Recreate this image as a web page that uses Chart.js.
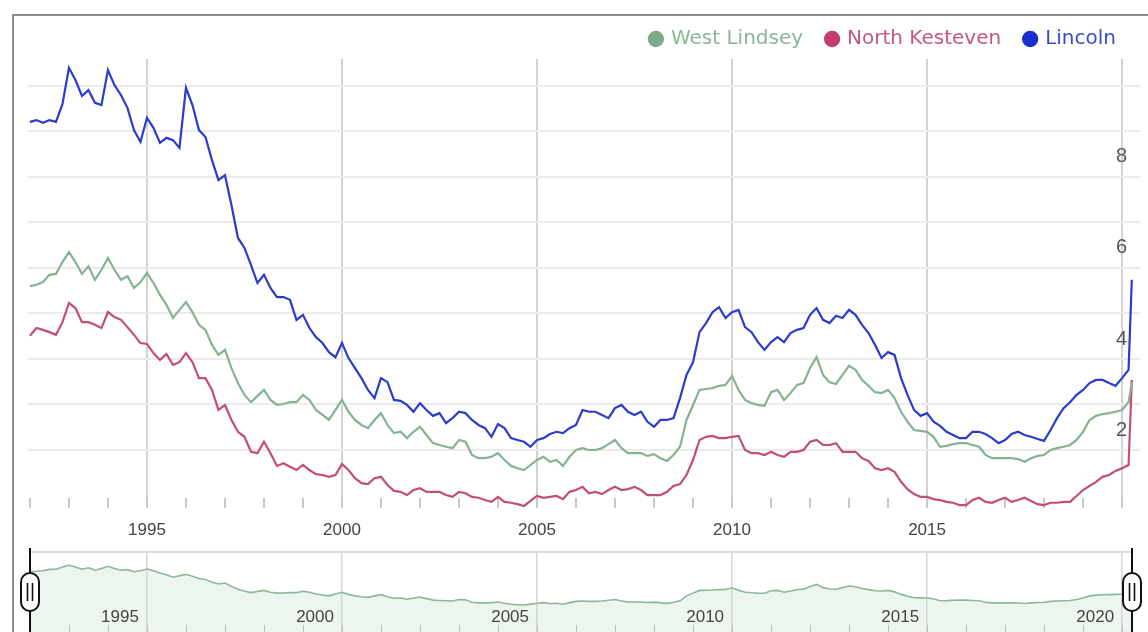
<!DOCTYPE html>
<html lang="en">
<head>
<meta charset="UTF-8" />
<title>Claimant rate - West Lindsey, North Kesteven, Lincoln</title>
<script src="https://cdn.jsdelivr.net/npm/chart.js"></script>
<style>
  body { margin: 0; background: #fff; overflow: hidden; }
  #frame {
    position: absolute; left: 12px; top: 14px;
    width: 1140px; height: 640px;
    border-left: 2px solid #8c8c8c; border-top: 2px solid #8c8c8c;
  }
  #main { position: absolute; left: 0; top: 0; }
  #nav { position: absolute; left: 0; top: 548px; }
</style>
</head>
<body>
<div id="frame"></div>
<canvas id="main" width="1148" height="548"></canvas>
<canvas id="nav" width="1148" height="92"></canvas>

<script>
  // one value every two months (Jan, Mar, May, Jul, Sep, Nov), then Jan/Mar/Apr 2020
  const dates = [];
  for (let y = 1992; y <= 2019; y++) {
    for (const m of [0, 2, 4, 6, 8, 10]) dates.push(y + m / 12);
  }
  dates.push(2020, 2020 + 2 / 12, 2020 + 3 / 12);

  const westLindsey = [
    5.60, 5.63, 5.69, 5.85, 5.87, 6.13,
    6.35, 6.13, 5.87, 6.04, 5.74, 5.96,
    6.22, 5.96, 5.74, 5.82, 5.56, 5.69,
    5.89, 5.67, 5.41, 5.19, 4.90, 5.08,
    5.25, 5.03, 4.75, 4.64, 4.31, 4.09,
    4.20, 3.80, 3.47, 3.21, 3.05, 3.19,
    3.32, 3.10, 2.99, 3.01, 3.05, 3.05,
    3.21, 3.10, 2.88, 2.77, 2.66, 2.88,
    3.10, 2.84, 2.66, 2.55, 2.48, 2.66,
    2.81, 2.55, 2.37, 2.40, 2.26, 2.40,
    2.51, 2.33, 2.15, 2.11, 2.07, 2.04,
    2.22, 2.18, 1.89, 1.82, 1.82, 1.85,
    1.93, 1.78, 1.65, 1.60, 1.56, 1.67,
    1.78, 1.85, 1.74, 1.78, 1.65, 1.85,
    2.00, 2.04, 2.00, 2.00, 2.04, 2.13,
    2.22, 2.04, 1.93, 1.93, 1.93, 1.87,
    1.91, 1.82, 1.76, 1.89, 2.07, 2.66,
    2.99, 3.32, 3.34, 3.36, 3.41, 3.43,
    3.63, 3.32, 3.10, 3.03, 2.99, 2.97,
    3.27, 3.32, 3.10, 3.25, 3.43, 3.47,
    3.80, 4.04, 3.65, 3.49, 3.45, 3.65,
    3.85, 3.76, 3.54, 3.41, 3.27, 3.25,
    3.32, 3.14, 2.84, 2.62, 2.44, 2.42,
    2.40, 2.29, 2.07, 2.09, 2.13, 2.15,
    2.15, 2.11, 2.07, 1.89, 1.82, 1.82,
    1.82, 1.82, 1.80, 1.74, 1.82, 1.87,
    1.89, 2.00, 2.04, 2.07, 2.11, 2.22,
    2.40, 2.66, 2.75, 2.79, 2.81, 2.84,
    2.88, 3.05, 3.49
  ];

  const northKesteven = [
    4.51, 4.68, 4.64, 4.59, 4.53, 4.81,
    5.23, 5.12, 4.81, 4.81, 4.75, 4.68,
    5.03, 4.92, 4.86, 4.70, 4.53, 4.35,
    4.33, 4.13, 3.98, 4.11, 3.87, 3.93,
    4.13, 3.93, 3.58, 3.58, 3.32, 2.88,
    2.99, 2.66, 2.40, 2.29, 1.96, 1.93,
    2.18, 1.93, 1.65, 1.71, 1.63, 1.56,
    1.67, 1.56, 1.47, 1.45, 1.41, 1.45,
    1.69, 1.56, 1.38, 1.27, 1.25, 1.38,
    1.41, 1.23, 1.10, 1.08, 1.01, 1.12,
    1.16, 1.08, 1.08, 1.08, 1.01, 0.97,
    1.08, 1.05, 0.97, 0.95, 0.90, 0.86,
    0.97, 0.86, 0.84, 0.81, 0.77, 0.88,
    0.99, 0.95, 0.97, 0.99, 0.92, 1.08,
    1.12, 1.19, 1.05, 1.08, 1.03, 1.12,
    1.19, 1.12, 1.14, 1.19, 1.12, 1.01,
    1.01, 1.01, 1.08, 1.21, 1.25, 1.45,
    1.78, 2.22, 2.29, 2.31, 2.26, 2.26,
    2.29, 2.31, 2.00, 1.93, 1.93, 1.89,
    1.96, 1.89, 1.85, 1.96, 1.96, 2.00,
    2.18, 2.22, 2.11, 2.11, 2.15, 1.96,
    1.96, 1.96, 1.82, 1.76, 1.60, 1.56,
    1.60, 1.52, 1.30, 1.14, 1.03, 0.97,
    0.97, 0.92, 0.90, 0.86, 0.84, 0.79,
    0.79, 0.90, 0.95, 0.86, 0.84, 0.90,
    0.95, 0.86, 0.90, 0.95, 0.88, 0.81,
    0.79, 0.84, 0.84, 0.86, 0.86, 0.99,
    1.12, 1.21, 1.30, 1.41, 1.45, 1.54,
    1.60, 1.67, 3.54
  ];

  const lincoln = [
    9.21, 9.25, 9.19, 9.25, 9.21, 9.60,
    10.40, 10.13, 9.78, 9.91, 9.63, 9.58,
    10.35, 10.02, 9.80, 9.52, 9.03, 8.77,
    9.30, 9.08, 8.75, 8.86, 8.81, 8.64,
    9.96, 9.58, 9.03, 8.88, 8.37, 7.93,
    8.04, 7.38, 6.66, 6.44, 6.07, 5.67,
    5.85, 5.56, 5.36, 5.36, 5.30, 4.86,
    4.97, 4.68, 4.48, 4.35, 4.15, 4.04,
    4.35, 4.02, 3.80, 3.58, 3.32, 3.14,
    3.58, 3.49, 3.10, 3.08, 2.99, 2.84,
    3.03, 2.88, 2.75, 2.81, 2.59, 2.70,
    2.84, 2.81, 2.66, 2.55, 2.48, 2.29,
    2.57, 2.48, 2.26, 2.22, 2.18, 2.07,
    2.22, 2.26, 2.35, 2.40, 2.37, 2.48,
    2.55, 2.88, 2.84, 2.84, 2.77, 2.70,
    2.92, 2.99, 2.84, 2.77, 2.84, 2.62,
    2.51, 2.66, 2.66, 2.70, 3.14, 3.65,
    3.93, 4.59, 4.79, 5.03, 5.14, 4.90,
    5.03, 5.08, 4.70, 4.59, 4.37, 4.20,
    4.37, 4.48, 4.37, 4.57, 4.64, 4.68,
    4.97, 5.12, 4.86, 4.79, 4.95, 4.90,
    5.08, 4.97, 4.75, 4.57, 4.31, 4.02,
    4.15, 4.09, 3.58, 3.21, 2.88, 2.75,
    2.81, 2.62, 2.53, 2.40, 2.33, 2.26,
    2.26, 2.40, 2.40, 2.35, 2.26, 2.15,
    2.22, 2.35, 2.40, 2.33, 2.29, 2.24,
    2.20, 2.44, 2.70, 2.92, 3.05, 3.21,
    3.32, 3.47, 3.54, 3.54, 3.47, 3.41,
    3.58, 3.76, 5.74
  ];

  const yearTicks = [];
  for (let y = 1992; y <= 2020; y++) yearTicks.push(y);
  const mainYearLabels = [1995, 2000, 2005, 2010, 2015];
  const navYearLabels = [1995, 2000, 2005, 2010, 2015, 2020];
  const valueTicks = [2, 3, 4, 5, 6, 7, 8, 9, 10];
  const valueLabels = [2, 4, 6, 8];

  const names = ['West Lindsey', 'North Kesteven', 'Lincoln'];
  const lineColors = ['#86b392', '#c24f72', '#2b3ccc'];
  const dotColors = ['#7dab88', '#c83c68', '#1a2ed0'];
  const legendText = ['#8ab895', '#c4587c', '#3b4cc8'];

  const pts = vals => dates.map((x, i) => ({ x: x, y: vals[i] }));
  const series = [westLindsey, northKesteven, lincoln];

  const fiveYearGrid = (c, col) => (c.tick && c.tick.value % 5 === 0 ? col : 'rgba(0,0,0,0)');
  const fixAxis = h => s => { s.height = h; s.paddingLeft = 0; s.paddingRight = 0; };
  const setYearTicks = s => { s.ticks = yearTicks.map(v => ({ value: v })); };

  new Chart(document.getElementById('main'), {
    type: 'line',
    data: {
      datasets: series.map((s, i) => ({
        label: names[i],
        data: pts(s),
        borderColor: lineColors[i],
        backgroundColor: dotColors[i],
        borderWidth: 2.2,
        pointRadius: 0,
        tension: 0
      }))
    },
    options: {
      responsive: false,
      animation: false,
      layout: { padding: { left: 28, right: 8, top: 5, bottom: 0 } },
      plugins: {
        tooltip: { enabled: false },
        legend: {
          position: 'top',
          align: 'end',
          labels: {
            usePointStyle: true,
            pointStyle: 'circle',
            boxWidth: 10,
            boxHeight: 10,
            padding: 24,
            font: { family: 'DejaVu Sans', size: 20 },
            generateLabels(chart) {
              const items = Chart.defaults.plugins.legend.labels.generateLabels(chart);
              items.forEach((it, i) => {
                it.fillStyle = dotColors[i];
                it.strokeStyle = dotColors[i];
                it.fontColor = legendText[i];
                it.pointStyle = 'circle';
              });
              return items;
            }
          }
        }
      },
      scales: {
        x: {
          type: 'linear',
          min: 1991.95,
          max: 2020.46,
          afterBuildTicks: setYearTicks,
          afterFit: fixAxis(40),
          border: { display: false },
          grid: {
            color: c => fiveYearGrid(c, '#d2d2d2'),
            lineWidth: 2,
            tickColor: '#c9c9c9',
            tickWidth: 2,
            tickLength: -10
          },
          ticks: {
            autoSkip: false,
            maxRotation: 0,
            padding: 22,
            color: '#444',
            font: { family: 'Liberation Sans', size: 17 },
            callback: v => (mainYearLabels.includes(v) ? String(v) : '')
          }
        },
        y: {
          position: 'right',
          min: 0.725,
          max: 10.593,
          afterBuildTicks: s => { s.ticks = valueTicks.map(v => ({ value: v })); },
          afterFit: s => { s.width = 0; },
          border: { display: false },
          grid: { color: '#ebebeb', lineWidth: 2, drawTicks: false },
          ticks: {
            mirror: true,
            padding: -13,
            labelOffset: -20,
            color: '#555',
            font: { family: 'Liberation Sans', size: 20 },
            callback: v => (valueLabels.includes(v) ? String(v) : '')
          }
        }
      }
    }
  });

  // range handles of the navigator strip
  const handles = {
    id: 'handles',
    afterDraw(chart) {
      const { ctx, chartArea: a } = chart;
      ctx.save();
      ctx.strokeStyle = '#dcdcdc';
      ctx.lineWidth = 2;
      ctx.beginPath();
      ctx.moveTo(a.left, a.top);
      ctx.lineTo(a.right, a.top);
      ctx.stroke();
      [a.left, a.right].forEach(x => {
        ctx.strokeStyle = '#111';
        ctx.lineWidth = 2;
        ctx.beginPath();
        ctx.moveTo(x, 0);
        ctx.lineTo(x, chart.height);
        ctx.stroke();
        ctx.fillStyle = '#fff';
        ctx.beginPath();
        ctx.roundRect(x - 9, 25, 18, 38, 9);
        ctx.fill();
        ctx.stroke();
        ctx.lineWidth = 1.6;
        ctx.beginPath();
        ctx.moveTo(x - 2.5, 35); ctx.lineTo(x - 2.5, 53);
        ctx.moveTo(x + 2.5, 35); ctx.lineTo(x + 2.5, 53);
        ctx.stroke();
      });
      ctx.restore();
    }
  };

  new Chart(document.getElementById('nav'), {
    type: 'line',
    data: {
      datasets: [{
        data: pts(westLindsey),
        borderColor: '#8db79a',
        backgroundColor: 'rgba(190, 220, 198, 0.28)',
        borderWidth: 1.6,
        fill: 'start',
        pointRadius: 0,
        tension: 0
      }]
    },
    options: {
      responsive: false,
      animation: false,
      layout: { padding: { left: 30, right: 16, top: 4, bottom: 0 } },
      plugins: {
        legend: { display: false },
        tooltip: { enabled: false },
        filler: { drawTime: 'beforeDraw' }
      },
      scales: {
        x: {
          type: 'linear',
          position: { y: 1.56 },
          min: 1992,
          max: 2020.25,
          afterBuildTicks: setYearTicks,
          border: { display: false },
          grid: {
            color: c => fiveYearGrid(c, '#d6d6d6'),
            lineWidth: 1.5,
            drawTicks: false
          },
          ticks: {
            autoSkip: false,
            maxRotation: 0,
            padding: 2,
            labelOffset: -27,
            color: '#444',
            font: { family: 'Liberation Sans', size: 17 },
            callback: v => (navYearLabels.includes(v) ? String(v) : '')
          }
        },
        xt: {
          type: 'linear',
          axis: 'x',
          position: { y: -0.85 },
          min: 1992,
          max: 2020.25,
          afterBuildTicks: setYearTicks,
          border: { display: false },
          grid: { drawOnChartArea: false, tickColor: '#bdbdbd', tickLength: 8 },
          ticks: { display: false }
        },
        y: { display: false, min: -2.65, max: 7.94 }
      }
    },
    plugins: [handles]
  });
</script>
</body>
</html>
